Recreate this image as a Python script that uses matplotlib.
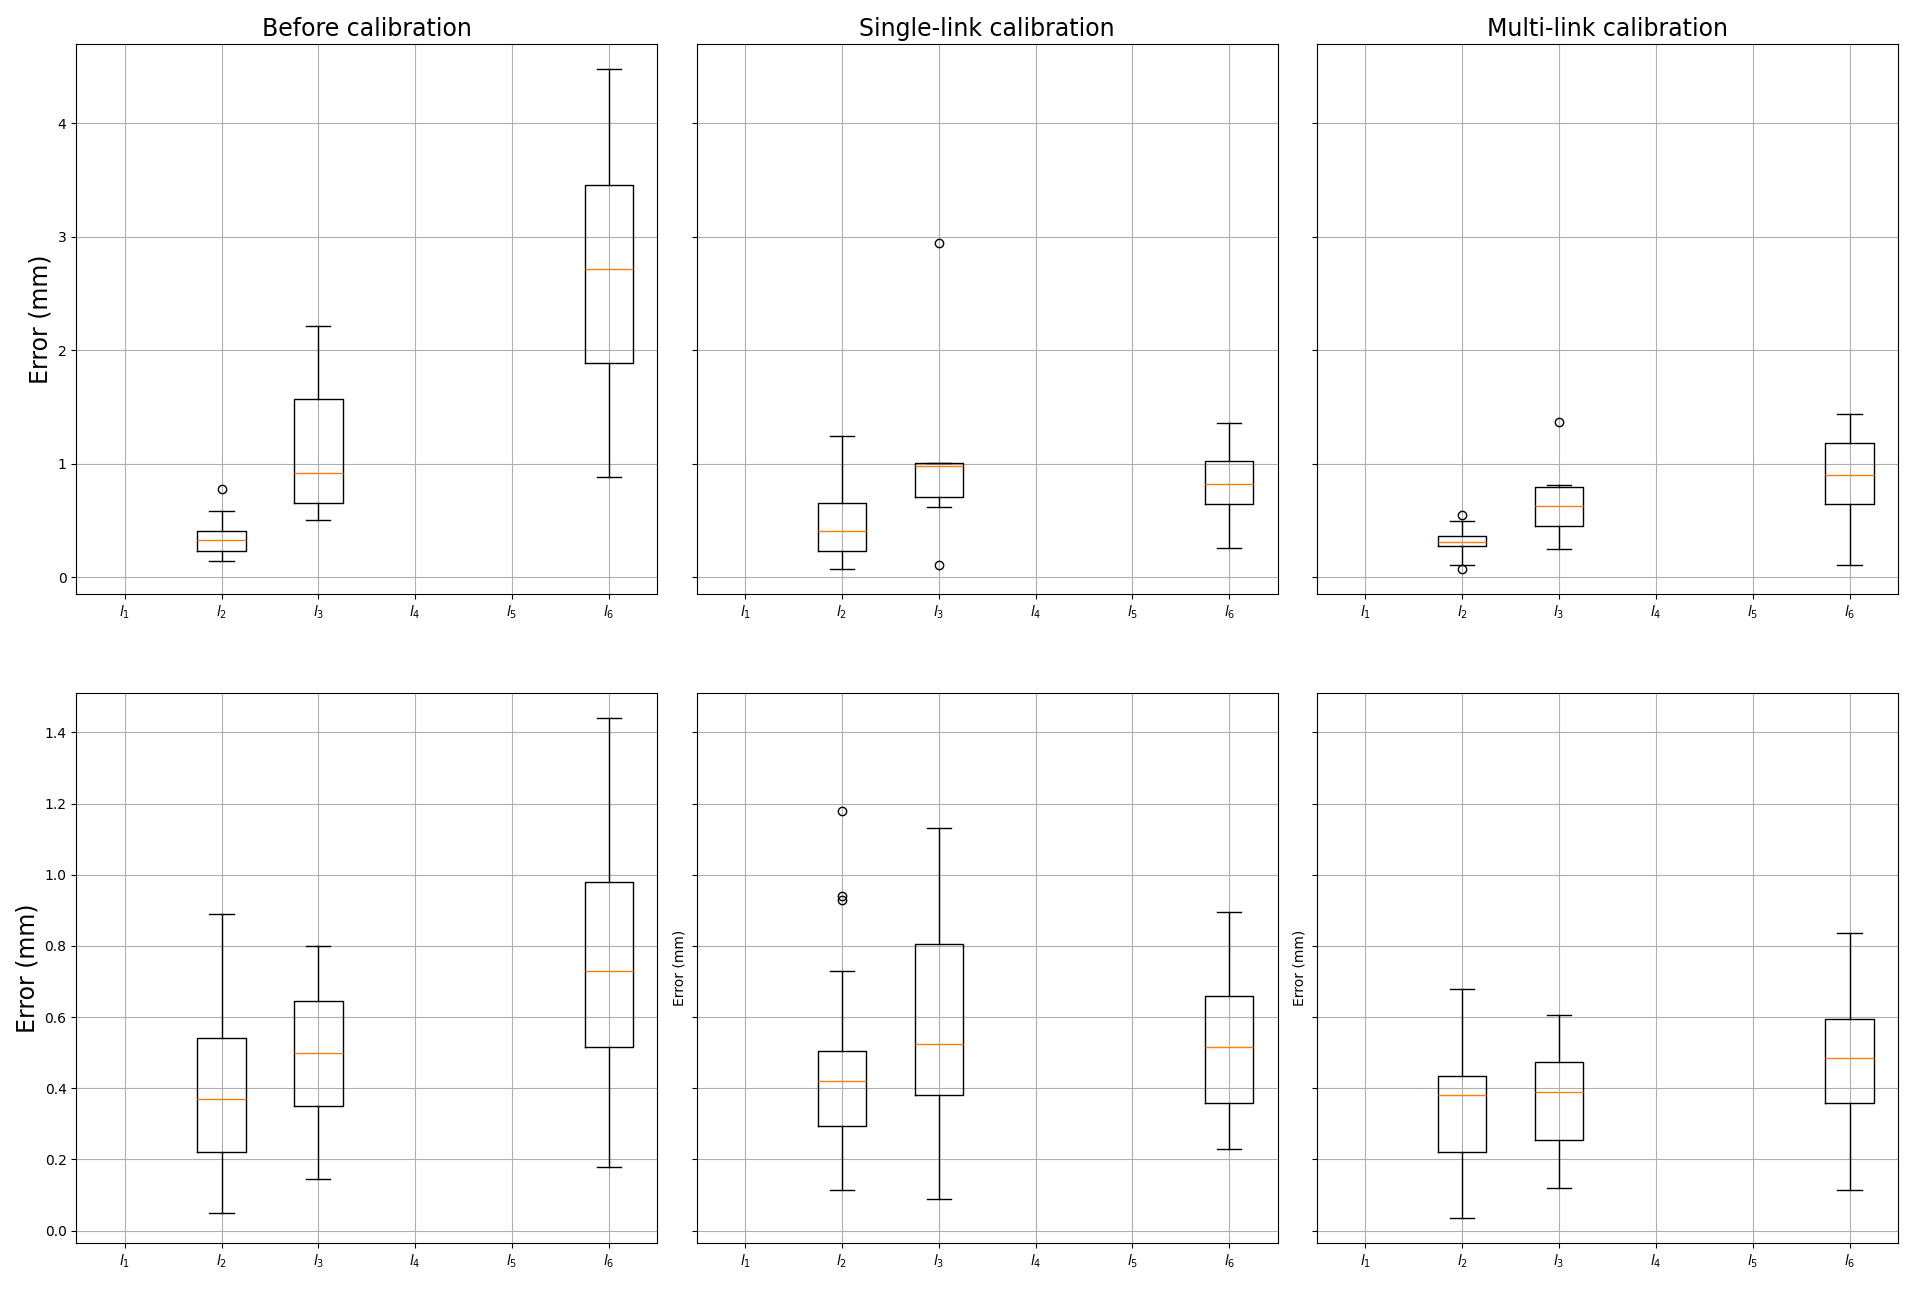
import matplotlib
matplotlib.use("Agg")
import matplotlib.pyplot as plt

titles = ["Before calibration", "Single-link calibration", "Multi-link calibration"]
xlabels = [r"$l_1$", r"$l_2$", r"$l_3$", r"$l_4$", r"$l_5$", r"$l_6$"]
positions = [2, 3, 6]

# (whislo, q1, med, q3, whishi, fliers) for l2, l3, l6
top_stats = [
    [(0.14, 0.23, 0.33, 0.41, 0.58, [0.78]),
     (0.50, 0.65, 0.92, 1.57, 2.21, []),
     (0.88, 1.89, 2.72, 3.46, 4.48, [])],
    [(0.07, 0.23, 0.41, 0.65, 1.24, []),
     (0.62, 0.71, 0.98, 1.01, 1.01, [2.95, 0.11]),
     (0.26, 0.64, 0.82, 1.02, 1.36, [])],
    [(0.11, 0.27, 0.31, 0.36, 0.49, [0.55, 0.07]),
     (0.25, 0.45, 0.63, 0.79, 0.81, [1.37]),
     (0.11, 0.64, 0.90, 1.18, 1.44, [])],
]
bottom_stats = [
    [(0.05, 0.22, 0.37, 0.54, 0.89, []),
     (0.145, 0.35, 0.50, 0.645, 0.80, []),
     (0.18, 0.515, 0.73, 0.98, 1.44, [])],
    [(0.115, 0.295, 0.42, 0.505, 0.73, [1.18, 0.94, 0.93]),
     (0.09, 0.38, 0.525, 0.805, 1.13, []),
     (0.23, 0.36, 0.515, 0.66, 0.895, [])],
    [(0.035, 0.22, 0.38, 0.435, 0.68, []),
     (0.12, 0.255, 0.39, 0.475, 0.605, []),
     (0.115, 0.36, 0.485, 0.595, 0.835, [])],
]


def to_bxp(rows):
    return [dict(whislo=r[0], q1=r[1], med=r[2], q3=r[3], whishi=r[4], fliers=r[5]) for r in rows]


fig, axes = plt.subplots(2, 3, figsize=(19.13, 12.95), dpi=100, sharey='row')
for row, data in enumerate([top_stats, bottom_stats]):
    for col in range(3):
        ax = axes[row, col]
        ax.bxp(to_bxp(data[col]), positions=positions, showfliers=True,
               medianprops=dict(color='C1'))
        ax.set_xlim(0.5, 6.5)
        ax.set_xticks(range(1, 7))
        ax.set_xticklabels(xlabels)
        ax.grid(True)
        ax.tick_params(labelsize=10)
        if row == 0:
            ax.set_title(titles[col], fontsize=17)
axes[0, 0].set_ylabel("Error (mm)", fontsize=17)
axes[1, 0].set_ylabel("Error (mm)", fontsize=17)
axes[1, 1].set_ylabel("Error (mm)", fontsize=10)
axes[1, 2].set_ylabel("Error (mm)", fontsize=10)
fig.tight_layout()
fig.subplots_adjust(top=0.966, bottom=0.04, hspace=0.18)
fig.savefig("out.png")
